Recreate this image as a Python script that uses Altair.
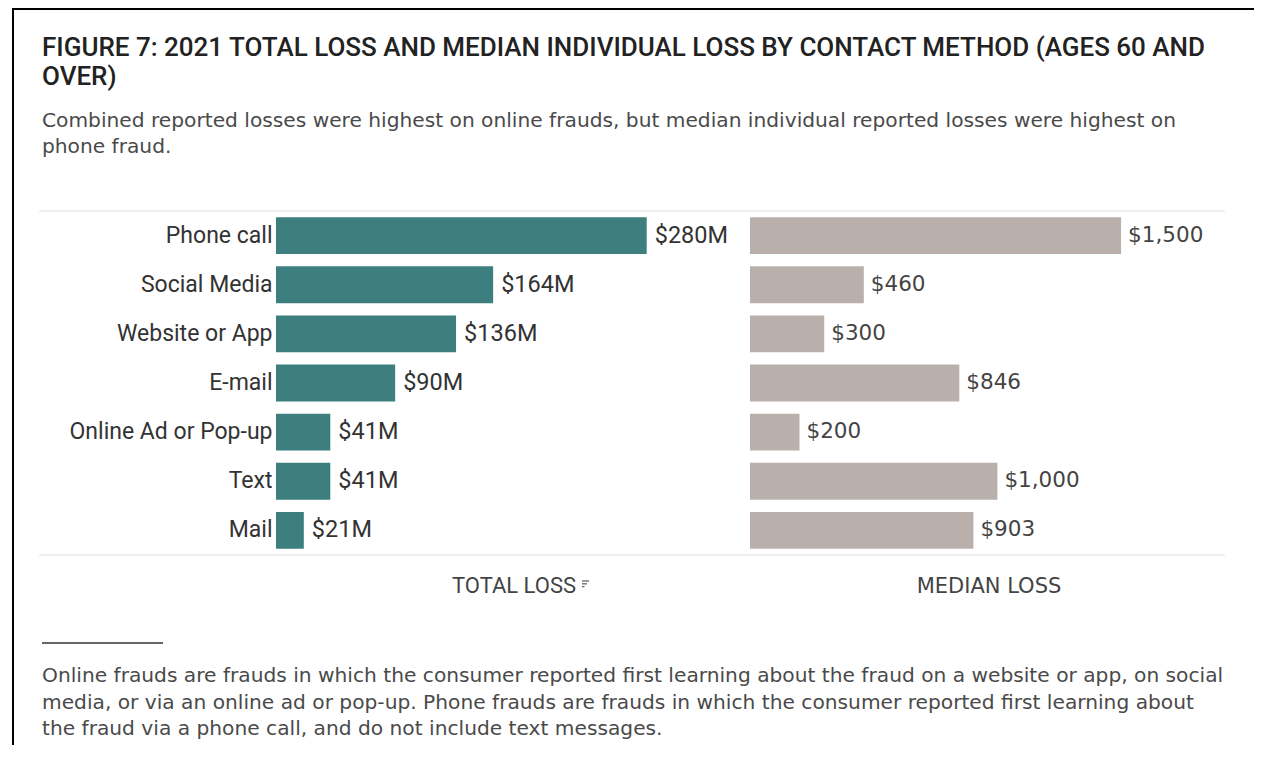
import altair as alt
import pandas as pd

categories = ["Phone call", "Social Media", "Website or App", "E-mail",
              "Online Ad or Pop-up", "Text", "Mail"]
total_loss_m = [280, 164, 136, 90, 41, 41, 21]
median_loss = [1500, 460, 300, 846, 200, 1000, 903]

title_text = "FIGURE 7: 2021 TOTAL LOSS AND MEDIAN INDIVIDUAL LOSS BY CONTACT METHOD (AGES 60 AND\nOVER)"
subtitle_text = ("Combined reported losses were highest on online frauds, but median individual reported losses were highest on\n"
                 "phone fraud.")
footnote_text = ("Online frauds are frauds in which the consumer reported first learning about the fraud on a website or app, on social\n"
                 "media, or via an online ad or pop-up. Phone frauds are frauds in which the consumer reported first learning about\n"
                 "the fraud via a phone call, and do not include text messages.")
left_axis_title = "TOTAL LOSS"
right_axis_title = "MEDIAN LOSS"

df = pd.DataFrame({"category": categories, "total": total_loss_m, "median": median_loss})

W, H = 949, 344
LEFT_FONT = "Roboto"
RIGHT_FONT = "DejaVu Sans"

yenc = alt.Y("category:N", sort=categories,
             scale=alt.Scale(paddingInner=0.25, paddingOuter=0.125),
             axis=alt.Axis(title=None, ticks=False, domain=False, labelFont=LEFT_FONT,
                           labelFontSize=23, labelColor="#333333", labelPadding=4,
                           labelLimit=300))

left_x = alt.X("total:Q", scale=alt.Scale(domain=[0, 355], range=[0, 470], nice=False), axis=None)
right_x = alt.X("median:Q", scale=alt.Scale(domain=[0, 1920], range=[474, 949], nice=False), axis=None)

base = alt.Chart(df)
left_bars = base.mark_bar(color="#3d7f7e").encode(x=left_x, y=yenc)
left_text = base.transform_calculate(lbl="'$' + datum.total + 'M'").mark_text(
    align="left", baseline="middle", dx=8, font=LEFT_FONT, fontSize=23.5, color="#333333"
).encode(x=left_x, y=yenc, text="lbl:N")

right_bars = base.mark_bar(color="#bab0ab").encode(x=right_x, y=yenc)
right_text = base.mark_text(
    align="left", baseline="middle", dx=7, font=RIGHT_FONT, fontSize=21.5, color="#444444"
).encode(x=right_x, y=yenc, text=alt.Text("median:Q", format="$,.0f"))

one = alt.Chart(pd.DataFrame({"k": [0]}))

grid_top = one.mark_rule(color="#dddddd", strokeWidth=1).encode(
    x=alt.value(-237), x2=alt.value(949), y=alt.value(0))
grid_bot = one.mark_rule(color="#dddddd", strokeWidth=1).encode(
    x=alt.value(-237), x2=alt.value(949), y=alt.value(H))

title_mark = one.mark_text(align="left", baseline="alphabetic", font=LEFT_FONT, fontSize=26,
                           fontWeight=500, color="#222222", lineBreak="\n", lineHeight=29,
                           text=title_text).encode(x=alt.value(-234), y=alt.value(-155))
subtitle_mark = one.mark_text(align="left", baseline="alphabetic", font=RIGHT_FONT, fontSize=20.2,
                              color="#4a4a4a", lineBreak="\n", lineHeight=26,
                              text=subtitle_text).encode(x=alt.value(-234), y=alt.value(-84))
lt_mark = one.mark_text(align="center", baseline="alphabetic", font=LEFT_FONT, fontSize=22,
                        color="#444444", text=left_axis_title).encode(x=alt.value(238), y=alt.value(382))
sort_icon = [
    one.mark_rule(color="#666666", strokeWidth=1.3).encode(
        x=alt.value(306), x2=alt.value(x2), y=alt.value(yy))
    for x2, yy in [(313, 370), (311, 372.8), (308.5, 375.6)]
]
rt_mark = one.mark_text(align="center", baseline="alphabetic", font=RIGHT_FONT, fontSize=21,
                        color="#444444", text=right_axis_title).encode(x=alt.value(713), y=alt.value(382))
foot_rule = one.mark_rule(color="#333333", strokeWidth=1.5).encode(
    x=alt.value(-234), x2=alt.value(-113), y=alt.value(432))
foot_mark = one.mark_text(align="left", baseline="alphabetic", font=RIGHT_FONT, fontSize=20.2,
                          color="#4a4a4a", lineBreak="\n", lineHeight=26.5,
                          text=footnote_text).encode(x=alt.value(-234), y=alt.value(471))
border_top = one.mark_rule(color="#000000", strokeWidth=2).encode(
    x=alt.value(-263), x2=alt.value(W + 29), y=alt.value(-202))
border_left = one.mark_rule(color="#000000", strokeWidth=2).encode(
    x=alt.value(-263), y=alt.value(-203), y2=alt.value(H + 190))

chart = alt.layer(
    grid_top, grid_bot, left_bars, left_text, right_bars, right_text,
    title_mark, subtitle_mark, lt_mark, *sort_icon, rt_mark, foot_rule, foot_mark,
    border_top, border_left
).resolve_scale(x="independent").properties(
    width=W, height=H,
    autosize=alt.AutoSizeParams(type="none"),
    padding={"left": 268, "top": 203, "right": 29, "bottom": 190},
    background="white",
).configure_view(stroke=None)

chart.save("out.html", embed_options={"renderer": "svg", "actions": False})
